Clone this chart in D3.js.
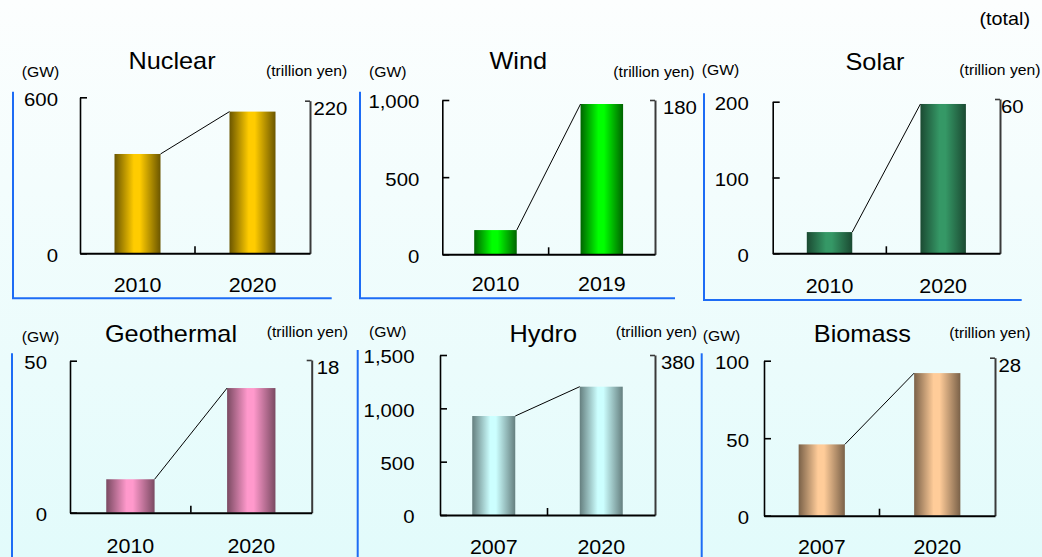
<!DOCTYPE html>
<html>
<head>
<meta charset="utf-8">
<script src="https://cdn.jsdelivr.net/npm/d3@7/dist/d3.min.js"></script>
<style>
  html, body { margin: 0; padding: 0; }
  svg { display: block; }
</style>
</head>
<body>
<svg id="chart" width="1042" height="557"></svg>
<script>
// ---- data ----
const titles = ["Nuclear", "Wind", "Solar", "Geothermal", "Hydro", "Biomass"];
const years = [
  ["2010", "2020"],
  ["2010", "2019"],
  ["2010", "2020"],
  ["2010", "2020"],
  ["2007", "2020"],
  ["2007", "2020"]
];
// installed capacity (GW)
const capacityGW = [
  [382, 545],
  [157, 974],
  [28, 197],
  [11, 41],
  [928, 1203],
  [46, 92]
];
// left axis tick values (GW)
const gwTicks = [
  [0, 600],
  [0, 500, 1000],
  [0, 100, 200],
  [0, 50],
  [0, 500, 1000, 1500],
  [0, 50, 100]
];
// right axis maximum (trillion yen)
const marketMax = [220, 180, 60, 18, 380, 28];
// bar shading: [centre colour, edge colour]
const barColors = [
  ["#ffcc00", "#6b5600"],
  ["#00ff00", "#006400"],
  ["#359866", "#1b4a32"],
  ["#ff99cc", "#7a4a62"],
  ["#ccffff", "#657f7f"],
  ["#ffcc99", "#7a6148"]
];

// ---- layout of the six panels ----
const layout = [
  {x0: 80,    x1: 310,   top: 97.3,  rtop: 100.7, bottom: 253.3, lpad: 22,   rpad: 3.5, yearDy: 38.4,
   titleX: 172,   titleY: 69.3,  gwX: 21.7,  gwY: 77,    tyX: 266,   tyY: 76.4,
   frame: {x: 13,    y0: 91.7,  y1: 298.3, xr: 331.7}},
  {x0: 442.3, x1: 655,   top: 100,   rtop: 100,   bottom: 254.3, lpad: 23,   rpad: 8,   yearDy: 36.6,
   titleX: 518.3, titleY: 69,    gwX: 369,   gwY: 76.7,  tyX: 613.3, tyY: 77,
   frame: {x: 360,   y0: 91.7,  y1: 298.3, xr: 675}},
  {x0: 772.7, x1: 1000,  top: 101.7, rtop: 99,    bottom: 253.3, lpad: 24,   rpad: 1,   yearDy: 40,
   titleX: 875,   titleY: 70,    gwX: 701.7, gwY: 74.7,  tyX: 959.3, tyY: 74.7,
   frame: {x: 704,   y0: 93.3,  y1: 300,   xr: 1021.7}},
  {x0: 70,    x1: 311.7, top: 360.7, rtop: 360,   bottom: 512.7, lpad: 23,   rpad: 5,   yearDy: 40,
   titleX: 171,   titleY: 341.7, gwX: 21.7,  gwY: 342,   tyX: 266.7, tyY: 337,
   frame: {x: 12,    y0: 353.3, y1: 560}},
  {x0: 440,   x1: 655,   top: 355,   rtop: 355,   bottom: 515,   lpad: 25.5, rpad: 6,   yearDy: 39,
   titleX: 543.3, titleY: 342.3, gwX: 369,   gwY: 337,   tyX: 615.7, tyY: 336.7,
   frame: {x: 357.7, y0: 350,   y1: 560}},
  {x0: 764,   x1: 995,   top: 360.7, rtop: 357.7, bottom: 515.7, lpad: 15,   rpad: 3.5, yearDy: 38.3,
   titleX: 862.3, titleY: 341.7, gwX: 702.7, gwY: 341,   tyX: 949.3, tyY: 337.7,
   frame: {x: 701.7, y0: 353.3, y1: 560}}
];

const FONT = "'Liberation Sans', Arial, Helvetica, sans-serif";
const SX = 1.1;            // horizontal stretch of all lettering
const FRAME_BLUE = "#1d6cf5";

const svg = d3.select("#chart");
const defs = svg.append("defs");

// page background: white fading to pale cyan
const bg = defs.append("linearGradient").attr("id", "bg")
  .attr("x1", 0).attr("y1", 0).attr("x2", 0).attr("y2", 1);
bg.append("stop").attr("offset", "0%").attr("stop-color", "#fcfefe");
bg.append("stop").attr("offset", "100%").attr("stop-color", "#e2fbfb");
svg.append("rect").attr("width", 1042).attr("height", 557).attr("fill", "url(#bg)");

function label(parent, text, x, y, size, anchor) {
  return parent.append("text")
    .attr("transform", `translate(${x},${y}) scale(${SX},1)`)
    .attr("text-anchor", anchor || "start")
    .style("font-family", FONT)
    .style("font-size", size + "px")
    .attr("fill", "#000")
    .text(text);
}

label(svg, "(total)", 1030, 24.5, 18, "end");

const fmt = d3.format(",");

titles.forEach((title, i) => {
  const p = layout[i];
  const g = svg.append("g");
  const vals = capacityGW[i];

  const x = d3.scaleBand().domain(years[i]).range([p.x0, p.x1])
    .paddingInner(0.6).paddingOuter(0.3);
  const y = d3.scaleLinear().domain([0, d3.max(gwTicks[i])]).range([p.bottom, p.top]);
  const y2 = d3.scaleLinear().domain([0, marketMax[i]]).range([p.bottom, p.rtop]);

  // blue panel frame (left and bottom edges)
  const f = p.frame;
  const framePath = f.xr !== undefined
    ? `M${f.x},${f.y0}V${f.y1}H${f.xr}`
    : `M${f.x},${f.y0}V${f.y1}`;
  g.append("path").attr("d", framePath).attr("fill", "none")
    .attr("stroke", FRAME_BLUE).attr("stroke-width", 2);

  // cylinder-like horizontal shading for the bars
  const grad = defs.append("linearGradient").attr("id", "bar" + i)
    .attr("x1", 0).attr("y1", 0).attr("x2", 1).attr("y2", 0);
  [[0, 1], [0.42, 0], [0.55, 0], [1, 1]].forEach(([o, c]) => {
    grad.append("stop").attr("offset", o).attr("stop-color", barColors[i][c]);
  });

  g.selectAll("rect.bar").data(vals).join("rect")
    .attr("class", "bar")
    .attr("x", (d, j) => x(years[i][j]))
    .attr("y", d => y(d))
    .attr("width", x.bandwidth())
    .attr("height", d => p.bottom - y(d))
    .attr("fill", `url(#bar${i})`);

  // series line joining the bar tops
  g.append("line")
    .attr("x1", x(years[i][0]) + x.bandwidth()).attr("y1", y(vals[0]))
    .attr("x2", x(years[i][1])).attr("y2", y(vals[1]))
    .attr("stroke", "#000").attr("stroke-width", 1);

  // left axis (GW)
  const la = g.append("g").attr("transform", `translate(${p.x0},0)`)
    .call(d3.axisLeft(y).tickValues(gwTicks[i]).tickSizeInner(-7).tickSizeOuter(0)
      .tickFormat(fmt));
  la.select(".domain").attr("stroke", "#000").attr("stroke-width", 1.6);
  la.selectAll(".tick line").attr("stroke", "#000").attr("stroke-width", 1.6);
  la.selectAll(".tick text")
    .attr("x", null).attr("dy", "0.35em")
    .attr("transform", `translate(${-p.lpad},1.5) scale(${SX},1)`)
    .attr("fill", "#000")
    .style("font-family", FONT).style("font-size", "18.5px");

  // right axis (trillion yen)
  const ra = g.append("g").attr("transform", `translate(${p.x1},0)`)
    .call(d3.axisRight(y2).tickValues([marketMax[i]]).tickSizeInner(-5).tickSizeOuter(0));
  ra.select(".domain").attr("stroke", "#3a3a3a").attr("stroke-width", 2);
  ra.selectAll(".tick line").attr("stroke", "#3a3a3a").attr("stroke-width", 1.6);
  ra.selectAll(".tick text")
    .attr("x", null).attr("dy", "0.35em")
    .attr("transform", `translate(${p.rpad},7) scale(${SX},1)`)
    .attr("fill", "#000")
    .style("font-family", FONT).style("font-size", "18.5px");

  // category axis
  const ba = g.append("g").attr("transform", `translate(0,${p.bottom})`)
    .call(d3.axisBottom(x).tickSize(0).tickSizeOuter(0));
  ba.select(".domain").attr("stroke", "#000").attr("stroke-width", 2);
  ba.selectAll(".tick text")
    .attr("y", null).attr("dy", null)
    .attr("transform", `translate(0,${p.yearDy}) scale(${SX},1)`)
    .attr("fill", "#000")
    .style("font-family", FONT).style("font-size", "19.5px");
  // divider tick between the two categories
  const mid = (x(years[i][0]) + x.bandwidth() + x(years[i][1])) / 2;
  g.append("line").attr("x1", mid).attr("x2", mid)
    .attr("y1", p.bottom).attr("y2", p.bottom - 7)
    .attr("stroke", "#000").attr("stroke-width", 1.6);

  // titles and units
  label(g, title, p.titleX, p.titleY, 23, "middle");
  label(g, "(GW)", p.gwX, p.gwY, 14.3, "start");
  label(g, "(trillion yen)", p.tyX, p.tyY, 14.3, "start");
});
</script>
</body>
</html>
